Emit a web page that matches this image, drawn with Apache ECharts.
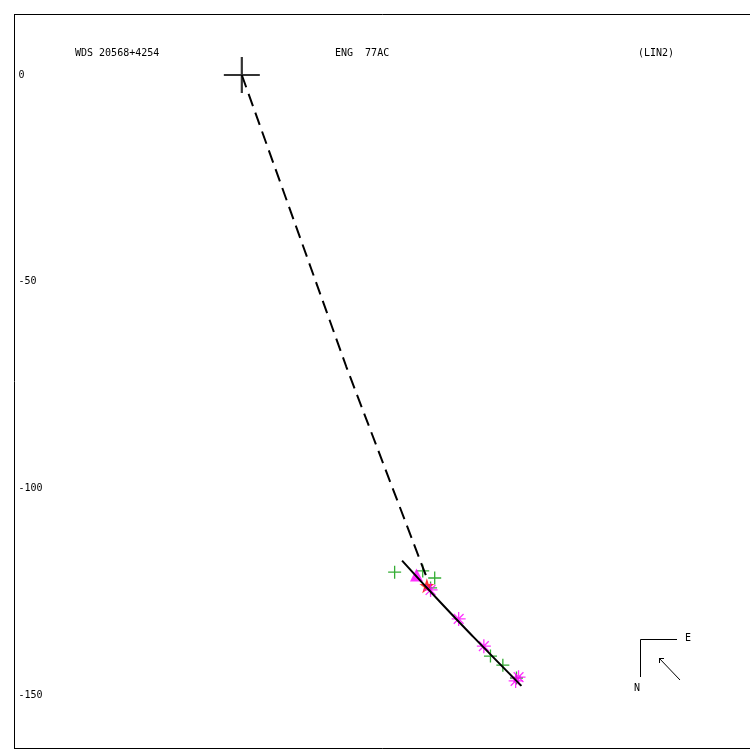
<!DOCTYPE html>
<html>
<head>
<meta charset="utf-8">
<script src="https://cdn.jsdelivr.net/npm/echarts@6/dist/echarts.min.js"></script>
<style>html,body{margin:0;padding:0;background:#fff}#c{width:750px;height:750px}</style>
</head>
<body>
<div id="c"></div>
<script>
// ---- data (arcsec-like units, primary at origin) ----
const yTickValues = [0, -50, -100, -150];
const primary = [[0, 0]];
const greenPlus = [[37.0, -120.3], [43.8, -120.0], [46.7, -121.7], [45.7, -124.1], [60.2, -140.6], [63.2, -142.8], [66.5, -145.9]];
const magentaAsterisk = [[45.7, -124.6], [52.5, -131.6], [58.6, -138.2], [66.3, -146.6], [67.0, -145.7]];
const magentaTriangle = [[42.3, -121.0]];
const redStar = [[44.8, -123.6]];
const dashedLine = [[0, 0], [25.3, -70.6], [44.8, -121.7]];
const orbitArc = [[38.8, -117.5], [47.9, -127.4], [56.0, -135.9], [67.7, -147.8]];
const titleLeft = 'WDS 20568+4254';
const titleMid = 'ENG  77AC';
const titleRight = '(LIN2)';

const FONT = '"DejaVu Sans Mono", monospace';
const crossPath = 'path://M0,-1 L0,1 M-1,0 L1,0';
const asteriskPath = 'path://M0,-1 L0,1 M-1,0 L1,0 M-0.7,-0.7 L0.7,0.7 M-0.7,0.7 L0.7,-0.7';
const starPath = 'path://M0,-1 L0.225,-0.309 L0.951,-0.309 L0.363,0.118 L0.588,0.809 L0,0.382 L-0.588,0.809 L-0.363,0.118 L-0.951,-0.309 L-0.225,-0.309 Z';

const XMIN = -55.04, XMAX = 123.04;
const frameAxis = { type: 'value', min: XMIN, max: XMAX, axisLine: { show: true, onZero: false, lineStyle: { color: '#000', width: 1 } }, axisTick: { show: false }, axisLabel: { show: false }, splitLine: { show: false } };

const chart = echarts.init(document.getElementById('c'));
chart.setOption({
  backgroundColor: '#fff',
  animation: false,
  grid: { left: 14.5, top: 14.5, width: 736, height: 734, show: false },
  xAxis: [
    Object.assign({}, frameAxis, { position: 'bottom' }),
    Object.assign({}, frameAxis, { position: 'top' })
  ],
  yAxis: {
    type: 'value', min: -162.96, max: 14.64,
    axisLine: { show: true, onZero: false, lineStyle: { color: '#000', width: 1 } }, axisTick: { show: false }, splitLine: { show: false },
    axisLabel: { inside: true, margin: 4, customValues: yTickValues, fontFamily: FONT, fontSize: 10, color: '#000' }
  },
  series: [
    { type: 'line', data: dashedLine, symbol: 'none', z: 3, lineStyle: { color: '#000', width: 2, type: [13, 7] } },
    { type: 'line', data: orbitArc, symbol: 'none', z: 4, smooth: true, lineStyle: { color: '#000', width: 2 } },
    { type: 'scatter', data: greenPlus, symbol: crossPath, symbolSize: 13, z: 2, itemStyle: { color: 'transparent', borderColor: '#009900', borderWidth: 1.3 } },
    { type: 'scatter', data: magentaTriangle, symbol: 'triangle', symbolSize: 13, z: 2, itemStyle: { color: '#ff00ff' } },
    { type: 'scatter', data: redStar, symbol: starPath, symbolSize: 15, z: 2, itemStyle: { color: '#ff0000' } },
    { type: 'scatter', data: magentaAsterisk, symbol: asteriskPath, symbolSize: 14, z: 2, itemStyle: { color: 'transparent', borderColor: '#ff00ff', borderWidth: 1.3 } },
    { type: 'scatter', data: primary, symbol: crossPath, symbolSize: 36, z: 5, itemStyle: { color: 'transparent', borderColor: '#000', borderWidth: 2.2 } }
  ],
  graphic: [
    { type: 'text', left: 75, top: 48, style: { text: titleLeft, font: '10px ' + FONT, fill: '#000' } },
    { type: 'text', left: 335, top: 48, style: { text: titleMid, font: '10px ' + FONT, fill: '#000' } },
    { type: 'text', left: 638, top: 48, style: { text: titleRight, font: '10px ' + FONT, fill: '#000' } },
    { type: 'polyline', shape: { points: [[677, 639.5], [640.5, 639.5], [640.5, 677]] }, style: { stroke: '#000', lineWidth: 1, fill: null } },
    { type: 'text', left: 685, top: 633, style: { text: 'E', font: '10px ' + FONT, fill: '#000' } },
    { type: 'text', left: 634, top: 683, style: { text: 'N', font: '10px ' + FONT, fill: '#000' } },
    { type: 'line', shape: { x1: 680, y1: 680, x2: 659, y2: 658 }, style: { stroke: '#000', lineWidth: 1 } },
    { type: 'polyline', shape: { points: [[664, 658.5], [659.5, 658.5], [659.5, 663]] }, style: { stroke: '#000', lineWidth: 1, fill: null } }
  ]
});
</script>
</body>
</html>
